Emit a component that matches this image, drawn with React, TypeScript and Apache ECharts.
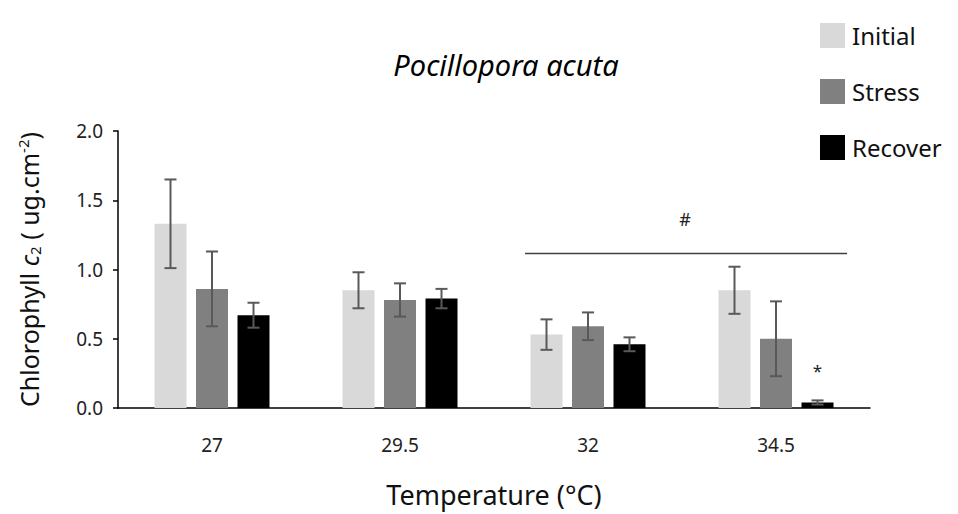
import React, { useEffect, useRef } from "react";
import * as echarts from "echarts";

const categories = ["27", "29.5", "32", "34.5"];
const seriesNames = ["Initial", "Stress", "Recover"];
const initialMeans = [1.33, 0.85, 0.53, 0.85];
const initialErr = [0.32, 0.13, 0.11, 0.17];
const stressMeans = [0.86, 0.78, 0.59, 0.5];
const stressErr = [0.27, 0.12, 0.1, 0.27];
const recoverMeans = [0.67, 0.79, 0.46, 0.04];
const recoverErr = [0.09, 0.07, 0.05, 0.015];
const colors = ["#d9d9d9", "#808080", "#000000"];
// significance bracket: from category index 2 to 3, at value
const sigFrom = 2;
const sigTo = 3;
const sigValue = 1.115;
const sigLabel = "#";
// asterisk on Recover at 34.5
const starCategory = 3;
const starSeries = 2;
const starValue = 0.27;

const FONT = "'Noto Sans', 'Open Sans', sans-serif";

export default function App() {
  const ref = useRef<HTMLDivElement>(null);
  useEffect(() => {
    document.body.style.margin = "0";
    if (!ref.current) return;
    const chart = echarts.init(ref.current, null, { renderer: "svg" });
    const means = [initialMeans, stressMeans, recoverMeans];
    const errs = [initialErr, stressErr, recoverErr];
    const barWidth = 32;
    const gapPx = 9.5;

    const errData: number[][] = [];
    means.forEach((m, s) => {
      m.forEach((v, i) => {
        errData.push([i, v, errs[s][i], s]);
      });
    });

    const option: any = {
      animation: false,
      title: {
        text: "Pocillopora acuta",
        left: 501,
        textAlign: "center",
        top: 45,
        textStyle: {
          fontFamily: FONT,
          fontStyle: "italic",
          fontWeight: "normal",
          fontSize: 29,
          color: "#000",
        },
      },
      legend: {
        orient: "vertical",
        left: 815,
        top: 18,
        itemWidth: 25,
        itemHeight: 25,
        itemGap: 31,
        icon: "rect",
        data: seriesNames,
        textStyle: {
          fontFamily: FONT,
          fontSize: 24,
          color: "#111",
          padding: [0, 0, 7, 2],
        },
      },
      grid: { left: 118, right: 88, top: 131, bottom: 106 },
      xAxis: {
        type: "category",
        data: categories,
        name: "Temperature (°C)",
        nameLocation: "middle",
        nameGap: 73,
        nameTextStyle: { fontFamily: FONT, fontSize: 27, color: "#111" },
        axisLine: { lineStyle: { color: "#000", width: 1.5 } },
        axisTick: { show: false },
        axisLabel: {
          margin: 27,
          fontFamily: FONT,
          fontSize: 19,
          color: "#222",
        },
      },
      yAxis: {
        type: "value",
        min: 0,
        max: 2,
        interval: 0.5,
        name:
          "{a|Chlorophyll }{i|c}{sub|2}{a| ( ug.cm}{sup|-2}{a|)}",
        nameLocation: "middle",
        nameGap: 76,
        nameTextStyle: {
          fontFamily: FONT,
          fontSize: 25,
          color: "#111",
          rich: {
            a: { fontFamily: FONT, fontSize: 25, color: "#111" },
            i: { fontFamily: FONT, fontSize: 25, color: "#111", fontStyle: "italic" },
            sub: { fontFamily: FONT, fontSize: 15, color: "#111", verticalAlign: "bottom", padding: [10, 0, 0, 0] },
            sup: { fontFamily: FONT, fontSize: 15, color: "#111", verticalAlign: "top", padding: [0, 0, 12, 0] },
          },
        },
        axisLine: { show: true, lineStyle: { color: "#000", width: 1.5 } },
        axisTick: { show: true, length: 5, lineStyle: { color: "#000", width: 1.5 } },
        splitLine: { show: false },
        axisLabel: {
          margin: 15,
          fontFamily: FONT,
          fontSize: 19,
          color: "#222",
          formatter: (v: number) => v.toFixed(1),
        },
      },
      series: [
        ...seriesNames.map((name, s) => ({
          name,
          type: "bar",
          data: means[s],
          barWidth,
          barGap: (gapPx / barWidth) * 100 + "%",
          itemStyle: { color: colors[s] },
        })),
        {
          type: "custom",
          name: "err",
          data: errData,
          z: 5,
          renderItem: (params: any, api: any) => {
            const ci = api.value(0);
            const mean = api.value(1);
            const e = api.value(2);
            const s = api.value(3);
            const off = (s - 1) * (barWidth + gapPx);
            const top = api.coord([ci, mean + e]);
            const bot = api.coord([ci, Math.max(0, mean - e)]);
            const x = top[0] + off;
            const cap = 6;
            const st = { stroke: "#595959", lineWidth: 2 };
            return {
              type: "group",
              children: [
                { type: "line", shape: { x1: x, y1: top[1], x2: x, y2: bot[1] }, style: st },
                { type: "line", shape: { x1: x - cap, y1: top[1], x2: x + cap, y2: top[1] }, style: st },
                { type: "line", shape: { x1: x - cap, y1: bot[1], x2: x + cap, y2: bot[1] }, style: st },
              ],
            };
          },
        },
        {
          type: "custom",
          name: "sig",
          data: [[sigFrom, sigTo, sigValue]],
          z: 5,
          renderItem: (params: any, api: any) => {
            const a = api.coord([api.value(0), api.value(2)]);
            const b = api.coord([api.value(1), api.value(2)]);
            const band = api.size([1, 0])[0];
            const x1 = a[0] - band * 0.335;
            const x2 = b[0] + band * 0.378;
            return {
              type: "group",
              children: [
                { type: "line", shape: { x1, y1: a[1], x2, y2: a[1] }, style: { stroke: "#404040", lineWidth: 1.5 } },
                {
                  type: "text",
                  x: (x1 + x2) / 2 - 1,
                  y: a[1] - 35,
                  style: { text: sigLabel, fontFamily: FONT, fontSize: 18, fill: "#222", align: "center", verticalAlign: "middle" },
                },
              ],
            };
          },
        },
        {
          type: "custom",
          name: "star",
          data: [[starCategory, starValue, starSeries]],
          z: 5,
          renderItem: (params: any, api: any) => {
            const p = api.coord([api.value(0), api.value(1)]);
            const off = (api.value(2) - 1) * (barWidth + gapPx);
            return {
              type: "text",
              x: p[0] + off,
              y: p[1],
              style: { text: "*", fontFamily: FONT, fontSize: 17, fill: "#222", align: "center", verticalAlign: "middle" },
            };
          },
        },
      ],
    };
    chart.setOption(option);
    return () => chart.dispose();
  }, []);
  return <div ref={ref} style={{ width: 958, height: 514 }} />;
}
